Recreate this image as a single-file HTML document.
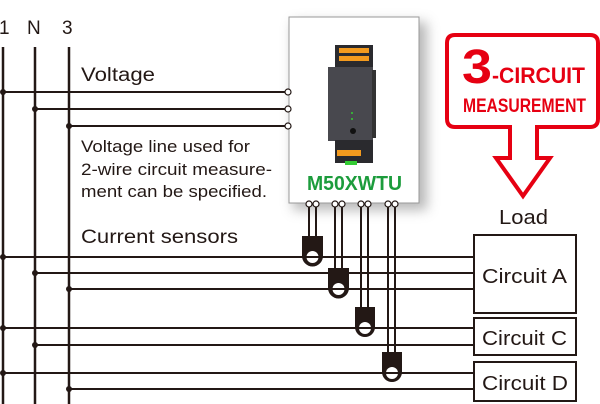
<!DOCTYPE html>
<html><head><meta charset="utf-8"><style>
html,body{margin:0;padding:0;background:#fff;}
svg{display:block;}
text{font-family:"Liberation Sans",sans-serif;}
</style></head><body>
<svg width="600" height="404" viewBox="0 0 600 404" xmlns="http://www.w3.org/2000/svg">
<defs>
<filter id="sh" x="-20%" y="-20%" width="140%" height="140%"><feGaussianBlur stdDeviation="6"/></filter>
</defs>
<rect x="293" y="22" width="134" height="188" fill="#999" filter="url(#sh)" opacity="0.7"/>
<rect x="289" y="17" width="130" height="186" fill="#fff" stroke="#999" stroke-width="1"/>
<rect x="335" y="45" width="38" height="24" fill="#2a2a2e"/>
<g fill="#f39a1e">
<rect x="339" y="48" width="30" height="5"/><rect x="339" y="56" width="30" height="5"/>
</g>
<rect x="328" y="67" width="45" height="74" fill="#48484e"/>
<rect x="372" y="70" width="4" height="68" fill="#333"/>
<circle cx="353" cy="131" r="3" fill="#111"/>
<circle cx="352" cy="113" r="1" fill="#3c3"/><circle cx="352" cy="119" r="1" fill="#3c3"/>
<rect x="335" y="140" width="38" height="23" fill="#2a2a2e"/>
<rect x="337" y="150" width="24" height="6" fill="#f39a1e"/>
<rect x="345" y="161" width="12" height="4" fill="#3c3"/>
<text x="307" y="190" font-size="20" font-weight="bold" fill="#1c9c3c" textLength="95" lengthAdjust="spacingAndGlyphs">M50XWTU</text>

<g stroke="#231815" stroke-width="2.5">
<line x1="3" y1="47" x2="3" y2="404"/>
<line x1="35" y1="47" x2="35" y2="404"/>
<line x1="69" y1="47" x2="69" y2="404"/>
</g>
<g stroke="#231815" stroke-width="2">
<line x1="3" y1="92" x2="286" y2="92"/>
<line x1="35" y1="109" x2="286" y2="109"/>
<line x1="69" y1="126" x2="286" y2="126"/>
<line x1="3" y1="257" x2="474" y2="257"/>
<line x1="35" y1="273" x2="474" y2="273"/>
<line x1="69" y1="289" x2="474" y2="289"/>
<line x1="3" y1="328" x2="474" y2="328"/>
<line x1="35" y1="345" x2="474" y2="345"/>
<line x1="3" y1="373" x2="474" y2="373"/>
<line x1="69" y1="389" x2="474" y2="389"/>
</g>
<g fill="#231815">
<circle cx="3" cy="92" r="3"/><circle cx="35" cy="109" r="3"/><circle cx="69" cy="126" r="3"/>
<circle cx="3" cy="257" r="3"/><circle cx="35" cy="273" r="3"/><circle cx="69" cy="289" r="3"/>
<circle cx="3" cy="328" r="3"/><circle cx="35" cy="345" r="3"/><circle cx="3" cy="373" r="3"/><circle cx="69" cy="389" r="3"/>
</g>
<g fill="#fff" stroke="#231815" stroke-width="1.2">
<circle cx="288" cy="92" r="3"/><circle cx="288" cy="109" r="3"/><circle cx="288" cy="126" r="3"/>
</g>
<g stroke="#231815" stroke-width="2">
<line x1="309" y1="206" x2="309" y2="240"/><line x1="316" y1="206" x2="316" y2="240"/>
<line x1="335" y1="206" x2="335" y2="272"/><line x1="342" y1="206" x2="342" y2="272"/>
<line x1="361" y1="206" x2="361" y2="311"/><line x1="368" y1="206" x2="368" y2="311"/>
<line x1="388" y1="206" x2="388" y2="356"/><line x1="395" y1="206" x2="395" y2="356"/>
</g>
<g fill="#fff" stroke="#231815" stroke-width="1.2">
<circle cx="309" cy="204" r="3"/><circle cx="316" cy="204" r="3"/>
<circle cx="335" cy="204" r="3"/><circle cx="342" cy="204" r="3"/>
<circle cx="361" cy="204" r="3"/><circle cx="368" cy="204" r="3"/>
<circle cx="388" cy="204" r="3"/><circle cx="395" cy="204" r="3"/>
</g>
<g fill="#231815">
<path d="M302 236 H323 V256 A10.5 10.5 0 0 1 302 256 Z"/>
<path d="M328 268 H349 V288 A10.5 10.5 0 0 1 328 288 Z"/>
<path d="M355 307 H375 V327 A10 10 0 0 1 355 327 Z"/>
<path d="M382 352 H402 V372 A10 10 0 0 1 382 372 Z"/>
</g>
<g fill="#fff">
<circle cx="312.5" cy="257" r="6"/><circle cx="338.5" cy="289" r="6"/>
<circle cx="365" cy="328" r="6"/><circle cx="392" cy="373" r="6"/>
</g>
<g stroke="#231815" stroke-width="2">
<line x1="305" y1="257" x2="320" y2="257"/><line x1="331" y1="289" x2="346" y2="289"/>
<line x1="358" y1="328" x2="372" y2="328"/><line x1="385" y1="373" x2="399" y2="373"/>
</g>
<g fill="#fff" stroke="#231815" stroke-width="2">
<rect x="474" y="235" width="102" height="78"/>
<rect x="474" y="318" width="102" height="37"/>
<rect x="474" y="362" width="102" height="39"/>
</g>
<g font-size="20" fill="#231815" lengthAdjust="spacingAndGlyphs">
<text x="482" y="283" textLength="85" lengthAdjust="spacingAndGlyphs">Circuit A</text>
<text x="482" y="345" textLength="85" lengthAdjust="spacingAndGlyphs">Circuit C</text>
<text x="482" y="390" textLength="86" lengthAdjust="spacingAndGlyphs">Circuit D</text>
<text x="499" y="224" textLength="49" lengthAdjust="spacingAndGlyphs">Load</text>
</g>
<g fill="#231815">
<text x="-1" y="34" font-size="19">1</text>
<text x="27" y="34" font-size="19">N</text>
<text x="62" y="34" font-size="19">3</text>
<text x="81" y="81" font-size="19" textLength="74" lengthAdjust="spacingAndGlyphs">Voltage</text>
<text x="81" y="152" font-size="17" textLength="169" lengthAdjust="spacingAndGlyphs">Voltage line used for</text>
<text x="81" y="175" font-size="17" textLength="191" lengthAdjust="spacingAndGlyphs">2-wire circuit measure-</text>
<text x="81" y="197" font-size="17" textLength="186" lengthAdjust="spacingAndGlyphs">ment can be specified.</text>
<text x="81" y="243" font-size="19" textLength="157" lengthAdjust="spacingAndGlyphs">Current sensors</text>
</g>
<path d="M455 35 H590 Q598 35 598 43 V119 Q598 127 590 127 H537 V158 H550 L523 196 L496 158 H510 V127 H455 Q447 127 447 119 V43 Q447 35 455 35 Z" fill="#fff" stroke="#e60012" stroke-width="4" stroke-linejoin="miter"/>
<text x="462" y="83" font-size="48" font-weight="bold" fill="#e60012" textLength="30" lengthAdjust="spacingAndGlyphs">3</text>
<text x="492" y="83" font-size="22" font-weight="bold" fill="#e60012" textLength="93" lengthAdjust="spacingAndGlyphs">-CIRCUIT</text>
<text x="463" y="112" font-size="19" font-weight="bold" fill="#e60012" textLength="123" lengthAdjust="spacingAndGlyphs">MEASUREMENT</text>
</svg>
</body></html>
